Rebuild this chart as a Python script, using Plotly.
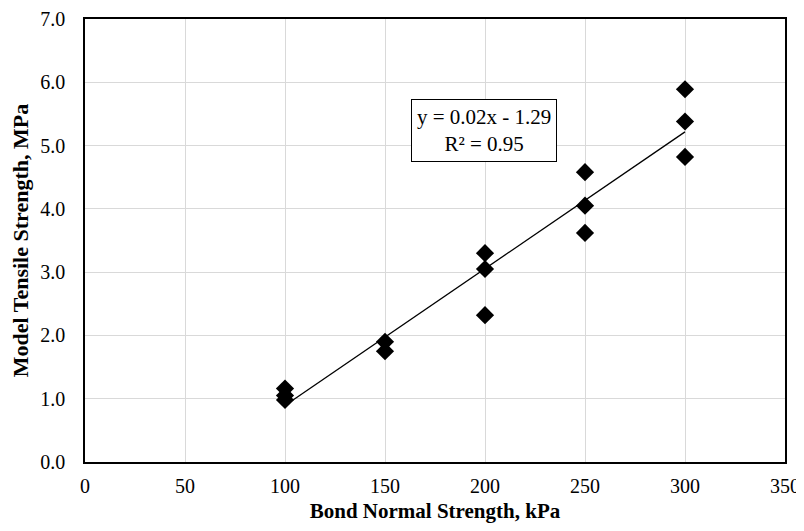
import numpy as np
import plotly.graph_objects as go

bond_strength = [100, 100, 100, 150, 150, 200, 200, 200, 250, 250, 250, 300, 300, 300]
tensile_strength = [1.16, 1.05, 0.98, 1.90, 1.75, 3.30, 3.05, 2.32, 4.58, 4.05, 3.62, 5.89, 5.38, 4.82]
x_ticks = [0, 50, 100, 150, 200, 250, 300, 350]
y_ticks = [0, 1, 2, 3, 4, 5, 6, 7]

slope, intercept = np.polyfit(bond_strength, tensile_strength, 1)
fit_x = [min(bond_strength), max(bond_strength)]
fit_y = [slope * v + intercept for v in fit_x]

font = "Liberation Serif, Times New Roman, serif"

fig = go.Figure()
fig.add_trace(go.Scatter(x=bond_strength, y=tensile_strength, mode="markers",
                         marker=dict(symbol="diamond", size=14, color="black"),
                         showlegend=False))
fig.add_trace(go.Scatter(x=fit_x, y=fit_y, mode="lines",
                         line=dict(color="black", width=1.3), showlegend=False))

fig.add_annotation(x=199.3, y=5.245, xref="x", yref="y",
                   text="y = 0.02x - 1.29<br>R² = 0.95", showarrow=False,
                   font=dict(family=font, size=21, color="black"),
                   bgcolor="white", bordercolor="black", borderwidth=1, borderpad=5,
                   align="center")

fig.update_layout(
    width=796, height=515,
    margin=dict(l=77, r=19, t=11, b=61),
    paper_bgcolor="white", plot_bgcolor="white",
    font=dict(family=font, size=20, color="black"),
    xaxis=dict(range=[0, 350], tickvals=x_ticks, ticktext=[str(v) for v in x_ticks],
               showgrid=True, gridcolor="#d9d9d9", gridwidth=1,
               showline=True, linecolor="black", linewidth=1.5, mirror=True,
               zeroline=False, ticks="", ticklabelstandoff=5, automargin=False,
               title=dict(text="<b>Bond Normal Strength, kPa</b>", font=dict(size=21), standoff=8)),
    yaxis=dict(range=[0, 7], tickvals=y_ticks, ticktext=[f"{v:.1f}" for v in y_ticks],
               showgrid=True, gridcolor="#d9d9d9", gridwidth=1,
               showline=True, linecolor="black", linewidth=1.5, mirror=True,
               zeroline=False, ticks="", ticklabelstandoff=14, automargin=False,
               title=dict(text="<b>Model Tensile Strength, MPa</b>", font=dict(size=22), standoff=9)),
)

fig.write_html("out.html")
